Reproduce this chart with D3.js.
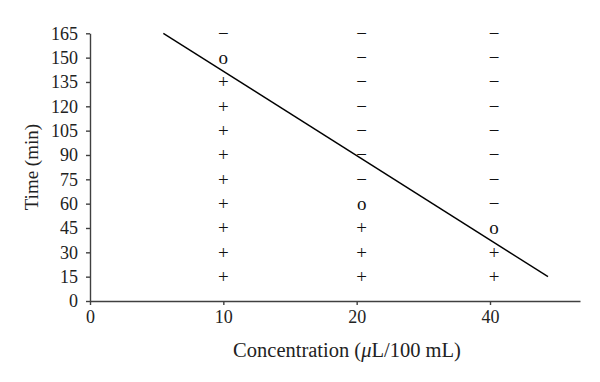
<!DOCTYPE html>
<html>
<head>
<meta charset="utf-8">
<script src="https://cdn.jsdelivr.net/npm/d3@7"></script>
<style>
  body { margin: 0; background: #fff; }
  svg { font-family: "Liberation Serif", "DejaVu Serif", serif; }
  .axis path, .axis line { stroke: #404040; stroke-width: 1.4; }
</style>
</head>
<body>
<svg id="chart" width="600" height="382"></svg>
<script>
// concentration categories (µL/100 mL)
var concentrations = ["10", "20", "40"];
var xTicks = ["0", "10", "20", "40"];
var yTicks = [0, 15, 30, 45, 60, 75, 90, 105, 120, 135, 150, 165];

// observed state at each time point: + / o / −
var times = [15, 30, 45, 60, 75, 90, 105, 120, 135, 150, 165];
var conc10 = ["+", "+", "+", "+", "+", "+", "+", "+", "+", "o", "−"];
var conc20 = ["+", "+", "+", "o", "−", "−", "−", "−", "−", "−", "−"];
var conc40 = ["+", "+", "o", "−", "−", "−", "−", "−", "−", "−", "−"];

// fitted line, x given as category index (0 = "0", 3 = "40")
var lineX = [0.55, 3.435];
var lineY = [165, 15];

var svg = d3.select("#chart");
var serif = "'Liberation Serif', 'DejaVu Serif', serif";

// evenly spaced category positions
var x = d3.scaleLinear().domain([0, 3.675]).range([90, 580]);
var y = d3.scaleLinear().domain([0, 165]).range([301, 33.3]);

var xAxis = d3.axisBottom(x)
    .tickValues([0, 1, 2, 3])
    .tickFormat((d, i) => xTicks[i])
    .tickSizeInner(4)
    .tickSizeOuter(0)
    .tickPadding(5);
var yAxis = d3.axisLeft(y)
    .tickValues(yTicks)
    .tickSizeInner(4)
    .tickSizeOuter(0)
    .tickPadding(8);

svg.append("g")
    .attr("class", "axis")
    .attr("transform", "translate(0," + y(0) + ")")
    .call(xAxis)
    .attr("font-family", serif)
    .attr("font-size", 18);
svg.append("g")
    .attr("class", "axis")
    .attr("transform", "translate(" + x(0) + ",0)")
    .call(yAxis)
    .attr("font-family", serif)
    .attr("font-size", 18);
svg.selectAll(".axis text").attr("fill", "#222");

// markers
var columns = [conc10, conc20, conc40];
var offsets = [0, 5, 4]; // markers sit slightly right of the ticks in the original
columns.forEach(function(col, c) {
    svg.append("g")
	.selectAll("text")
	.data(col.map((s, i) => ({t: times[i], s: s})))
	.enter()
	.append("text")
	.attr("x", x(c + 1) + offsets[c])
	.attr("y", d => y(d.t))
	.attr("dy", "0.33em")
	.attr("text-anchor", "middle")
	.attr("font-family", serif)
	.attr("font-size", 19)
	.attr("fill", "#111")
	.text(d => d.s);
});

// fitted line
var line = d3.line()
    .x(d => x(d[0]))
    .y(d => y(d[1]));
svg.append("path")
    .datum(lineX.map((v, i) => [v, lineY[i]]))
    .attr("d", line)
    .attr("fill", "none")
    .attr("stroke", "#000")
    .attr("stroke-width", 1.4);

// axis titles
svg.append("text")
    .attr("x", 347)
    .attr("y", 357)
    .attr("text-anchor", "middle")
    .attr("font-family", serif)
    .attr("font-size", 20.5)
    .attr("fill", "#222")
    .html("Concentration (<tspan font-style='italic'>μ</tspan>L/100 mL)");
svg.append("text")
    .attr("transform", "translate(38," + (y(0) + y(165)) / 2 + ") rotate(-90)")
    .attr("text-anchor", "middle")
    .attr("font-family", serif)
    .attr("font-size", 19)
    .attr("fill", "#222")
    .text("Time (min)");
</script>
</body>
</html>
